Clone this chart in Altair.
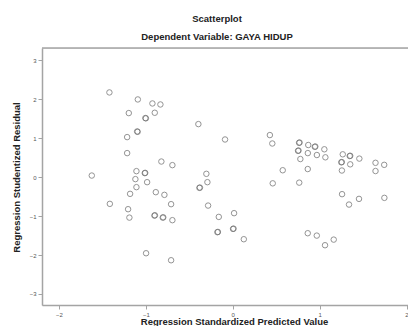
import altair as alt
import pandas as pd

# Regression standardized predicted value (x) and studentized residual (y)
pred = [-1.420, -1.093, -0.925, -0.833, -1.197, -0.898, -1.006, -1.101, -1.216, -0.396,
        -0.089, -1.216, -0.822, -0.695, -1.623, -1.109, -1.013, -1.121, -0.986, -1.109,
        -1.182, -0.886, -0.787, -0.304, -0.292, -0.384, -1.415, -0.710, -1.205, -1.190,
        -0.902, -0.806, -0.695, -0.284, -0.161, 0.015, -0.177, 0.003, 0.127, -0.998,
        -0.710, 0.427, 0.455, 0.763, 0.751, 0.869, 0.944, 1.054, 0.778, 0.864,
        0.968, 1.066, 0.575, 0.863, 0.460, 0.765, 1.266, 1.346, 1.457, 1.249,
        1.352, 1.256, 1.643, 1.743, 1.643, 1.258, 1.338, 1.453, 1.745, 0.863,
        0.967, 1.062, 1.162,
        # overlapping observations
        -1.000, -1.095, -1.008, -0.378, -0.896, -0.800, -0.171, 0.009, 0.769, 0.757,
        0.950, 1.352, 1.255]
resid = [2.175, 1.995, 1.892, 1.866, 1.645, 1.653, 1.517, 1.172, 1.028, 1.362,
         0.967, 0.617, 0.401, 0.308, 0.041, 0.154, 0.103, -0.051, -0.129, -0.257,
         -0.429, -0.386, -0.455, 0.085, -0.129, -0.275, -0.686, -0.694, -0.823, -1.039,
         -0.987, -1.039, -1.105, -0.730, -1.021, -0.925, -1.414, -1.329, -1.594, -1.954,
         -2.134, 1.080, 0.864, 0.882, 0.676, 0.825, 0.779, 0.715, 0.465, 0.617,
         0.568, 0.509, 0.177, 0.208, -0.159, -0.141, 0.586, 0.542, 0.476, 0.380,
         0.329, 0.170, 0.368, 0.316, 0.157, -0.437, -0.704, -0.558, -0.532, -1.440,
         -1.501, -1.748, -1.604,
         1.510, 1.165, 0.110, -0.268, -0.980, -1.032, -1.407, -1.322, 0.889, 0.683,
         0.786, 0.549, 0.387]

x_ticks = [-2, -1, 0, 1, 2]
y_ticks = [-3, -2, -1, 0, 1, 2, 3]
x_domain = [-2.196, 2.017]
y_domain = [-3.283, 3.316]

df = pd.DataFrame({"pred": pred, "resid": resid})

FONT = "Liberation Sans"
FRAME = "#a4a4a4"

points = alt.Chart(df).mark_point(
    shape="circle", filled=False, size=30, strokeWidth=1, color="#707070", opacity=0.75
).encode(
    x=alt.X("pred:Q",
            scale=alt.Scale(domain=x_domain, nice=False, zero=False),
            axis=alt.Axis(values=x_ticks, format="d", grid=False, tickSize=4,
                          labelFontSize=6, labelPadding=2, labelColor="#555",
                          labelFont=FONT, domainColor=FRAME, domainWidth=1.5,
                          tickColor=FRAME, labelFlush=False,
                          title="Regression Standardized Predicted Value",
                          titleFont=FONT, titleFontSize=9.5, titleFontWeight="bold",
                          titleColor="#222", titleX=192, titleY=16.5,
                          titleAlign="center", titleBaseline="middle")),
    y=alt.Y("resid:Q",
            scale=alt.Scale(domain=y_domain, nice=False, zero=False),
            axis=alt.Axis(values=y_ticks, format="d", grid=False, tickSize=4,
                          labelFontSize=6, labelPadding=2, labelColor="#555",
                          labelFont=FONT, domainColor=FRAME, domainWidth=1.5,
                          tickColor=FRAME, labelFlush=False,
                          title="Regression Studentized Residual",
                          titleFont=FONT, titleFontSize=9.5, titleFontWeight="bold",
                          titleColor="#222", titleX=-26, titleY=129, titleAngle=270,
                          titleAlign="center", titleBaseline="middle")),
)

top_rule = alt.Chart(alt.Data(values=[{}])).mark_rule(
    color=FRAME, strokeWidth=1.5
).encode(y=alt.datum(y_domain[1]))

chart = alt.layer(points, top_rule).properties(
    width=366,
    height=257,
    autosize=alt.AutoSizeParams(type="none"),
    padding={"left": 34, "top": 40, "right": 0, "bottom": 21},
    title=alt.TitleParams(
        text="Scatterplot",
        subtitle="Dependent Variable: GAYA HIDUP",
        anchor="middle",
        font=FONT, fontSize=9.5, fontWeight="bold", color="#222",
        subtitleFont=FONT, subtitleFontSize=9.5, subtitleFontWeight="bold",
        subtitleColor="#222", subtitlePadding=8, offset=6, dx=-8,
    ),
).configure_view(stroke=None).configure(background="white")

chart.save("out.html", embed_options={"renderer": "svg", "actions": False})
